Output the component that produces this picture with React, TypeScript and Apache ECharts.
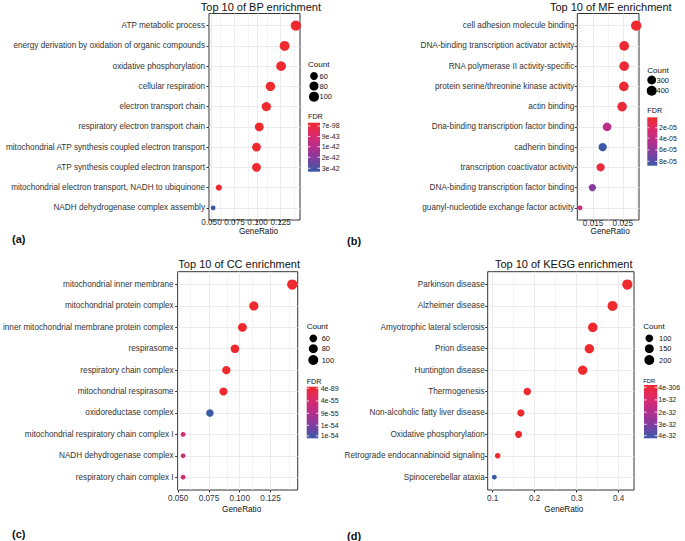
import React, { useEffect, useRef } from "react";
import * as echarts from "echarts";

// ---------- DATA ----------
// (a) BP
const bpTerms = [
  "ATP metabolic process",
  "energy derivation by oxidation of organic compounds",
  "oxidative phosphorylation",
  "cellular respiration",
  "electron transport chain",
  "respiratory electron transport chain",
  "mitochondrial ATP synthesis coupled electron transport",
  "ATP synthesis coupled electron transport",
  "mitochondrial electron transport, NADH to ubiquinone",
  "NADH dehydrogenase complex assembly",
];
const bpRatio = [0.1415, 0.1293, 0.1255, 0.1139, 0.1095, 0.1018, 0.0988, 0.0988, 0.058, 0.0518];
const bpCount = [107, 98, 95, 86, 83, 77, 75, 75, 44, 39];
const bpFdr = [7e-98, 2e-80, 5e-78, 3e-70, 1e-68, 2e-64, 4e-62, 6e-62, 1e-44, 3.3e-42];
const bpMajor = [0.05, 0.075, 0.1, 0.125];
const bpMinor = [0.0625, 0.0875, 0.1125, 0.1375];
const bpCountBreaks = [60, 80, 100];
const bpFdrLabels = ["7e-98", "9e-43", "1e-42", "2e-42", "3e-42"];

// (b) MF
const mfTerms = [
  "cell adhesion molecule binding",
  "DNA-binding transcription activator activity",
  "RNA polymerase II activity-specific",
  "protein serine/threonine kinase activity",
  "actin binding",
  "Dna-binding transcription factor binding",
  "cadherin binding",
  "transcription coactivator activity",
  "DNA-binding transcription factor binding",
  "guanyl-nucleotide exchange factor activity",
];
const mfRatio = [0.0295, 0.02545, 0.02545, 0.02534, 0.02476, 0.01969, 0.01821, 0.01752, 0.01476, 0.01062];
const mfCount = [430, 371, 371, 369, 361, 287, 265, 255, 215, 155];
const mfFdr = [1.4e-6, 3e-6, 3.5e-6, 4e-6, 5e-6, 4.2e-5, 8.78e-5, 7e-6, 6.4e-5, 3.2e-5];
const mfMajor = [0.015, 0.025];
const mfMinor = [0.01, 0.02, 0.03];
const mfCountBreaks = [300, 400];
const mfFdrLabels = ["2e-05", "4e-05", "6e-05", "8e-05"];

// (c) CC
const ccTerms = [
  "mitochondrial inner membrane",
  "mitochondrial protein complex",
  "inner mitochondrial membrane protein complex",
  "respirasome",
  "respiratory chain complex",
  "mitochondrial respirasome",
  "oxidoreductase complex",
  "mitochondrial respiratory chain complex I",
  "NADH dehydrogenase complex",
  "respiratory chain complex I",
];
const ccRatio = [0.1427, 0.1115, 0.1022, 0.0961, 0.0891, 0.0868, 0.0758, 0.054, 0.054, 0.054];
const ccCount = [108, 85, 78, 73, 68, 66, 58, 41, 41, 41];
const ccFdr = [4e-89, 2e-75, 5e-70, 8e-66, 3e-62, 5e-61, 1.45e-54, 4.6e-55, 4.6e-55, 4.6e-55];
const ccMajor = [0.05, 0.075, 0.1, 0.125];
const ccMinor = [0.0625, 0.0875, 0.1125, 0.1375];
const ccCountBreaks = [60, 80, 100];
const ccFdrLabels = ["4e-89", "4e-55", "9e-55", "1e-54", "1e-54"];

// (d) KEGG
const keggTerms = [
  "Parkinson disease",
  "Alzheimer disease",
  "Amyotrophic lateral sclerosis",
  "Prion disease",
  "Huntington disease",
  "Thermogenesis",
  "Non-alcoholic fatty liver disease",
  "Oxidative phosphorylation",
  "Retrograde endocannabinoid signaling",
  "Spinocerebellar ataxia",
];
const keggRatio = [0.4209, 0.3856, 0.3385, 0.3304, 0.3145, 0.1825, 0.1672, 0.1617, 0.112, 0.104];
const keggCount = [223, 204, 179, 175, 167, 97, 89, 86, 59, 55];
const keggFdr = [4e-306, 1e-150, 2e-120, 3e-118, 1e-110, 2e-50, 4e-45, 6e-44, 2e-35, 4.3e-32];
const keggMajor = [0.1, 0.2, 0.3, 0.4];
const keggMinor = [0.15, 0.25, 0.35];
const keggCountBreaks = [100, 150, 200];
const keggFdrLabels = ["4e-306", "1e-32", "2e-32", "3e-32", "4e-32"];

const titles = [
  "Top 10 of BP enrichment",
  "Top 10 of MF enrichment",
  "Top 10 of CC enrichment",
  "Top 10 of KEGG enrichment",
];
const tags = ["(a)", "(b)", "(c)", "(d)"];

const PANELS = [
  { terms: bpTerms, ratio: bpRatio, count: bpCount, fdr: bpFdr, major: bpMajor, minor: bpMinor, breaks: bpCountBreaks, fdrLabels: bpFdrLabels, dec: 3 },
  { terms: mfTerms, ratio: mfRatio, count: mfCount, fdr: mfFdr, major: mfMajor, minor: mfMinor, breaks: mfCountBreaks, fdrLabels: mfFdrLabels, dec: 3 },
  { terms: ccTerms, ratio: ccRatio, count: ccCount, fdr: ccFdr, major: ccMajor, minor: ccMinor, breaks: ccCountBreaks, fdrLabels: ccFdrLabels, dec: 3 },
  { terms: keggTerms, ratio: keggRatio, count: keggCount, fdr: keggFdr, major: keggMajor, minor: keggMinor, breaks: keggCountBreaks, fdrLabels: keggFdrLabels, dec: 1 },
];

// ---------- LAYOUT / STYLE ----------
const FONT = "'Liberation Sans', Arial, Helvetica, sans-serif";
const RAMP = ["#EE2A2F", "#DC2A6B", "#B52E8D", "#7E3FA0", "#3A5AA8"];
const D_MIN = 4.7;
const D_MAX = 10.3;
const AXIS_TEXT = "#333333";
const AXIS_FS = 8.2;

const LAYOUT = [
  {
    grid: { left: 209, top: 13.5, width: 91, height: 206.5 },
    xMargin: -1.5, nameGap: 5, namePad: 8, yMargin: 4,
    title: [260.9, 6.5], tag: [12, 239],
    count: { title: [308, 64], cx: 314, cys: [76, 86, 96.7], lx: 319.5 },
    fdr: { title: [308, 116], fs: 7.2, bar: [308, 122.7, 12, 49], lx: 321.7, fr: [0.067, 0.28, 0.49, 0.705, 0.93] },
  },
  {
    grid: { left: 577.3, top: 13.5, width: 61.7, height: 206.5 },
    xMargin: -1, nameGap: 6.5, namePad: 4, yMargin: 3,
    title: [610.8, 6.5], tag: [347, 240.5],
    count: { title: [647.3, 70], cx: 651.7, cys: [80, 90.7], lx: 656.5 },
    fdr: { title: [647.3, 110.7], fs: 7.2, bar: [647.3, 117.3, 10, 48.4], lx: 659, fr: [0.215, 0.43, 0.675, 0.91] },
  },
  {
    grid: { left: 176, top: 271.7, width: 121.7, height: 218.3 },
    xMargin: 4, nameGap: 15.5, namePad: 8, yMargin: 4,
    title: [239.2, 263.5], tag: [12, 533.5],
    count: { title: [306.7, 326], cx: 313.3, cys: [338.3, 348.7, 360], lx: 321.7 },
    fdr: { title: [306.7, 381], fs: 7.2, bar: [306.7, 386.7, 11.6, 51.6], lx: 320.7, fr: [0.03, 0.277, 0.516, 0.748, 0.955] },
  },
  {
    grid: { left: 487.7, top: 271.7, width: 146.3, height: 218.3 },
    xMargin: 4, nameGap: 15.5, namePad: 6, yMargin: 3,
    title: [563.7, 264], tag: [347, 535.5],
    count: { title: [643.3, 326], cx: 649.3, cys: [338.3, 348.7, 360], lx: 659 },
    fdr: { title: [643.3, 381], fs: 5.8, bar: [644, 385, 13.3, 53.3], lx: 658.3, fr: [0.043, 0.28, 0.51, 0.737, 0.95] },
  },
];

const sizeOf = (c: number, cmin: number, cmax: number) =>
  D_MIN + (D_MAX - D_MIN) * Math.sqrt(Math.max(0, (c - cmin) / (cmax - cmin)));

function txt(text: string, x: number, y: number, fontSize: number, align = "left", extra: any = {}) {
  return {
    type: "text",
    silent: true,
    z: 10,
    style: {
      text, x, y, fontSize, fontFamily: FONT, fill: extra.fill || "#111111",
      fontWeight: extra.fontWeight || "normal",
      align, textAlign: align, verticalAlign: "middle", textVerticalAlign: "middle",
    },
  };
}

function buildOption() {
  const grid: any[] = [];
  const xAxis: any[] = [];
  const yAxis: any[] = [];
  const series: any[] = [];
  const visualMap: any[] = [];
  const graphic: any[] = [];

  PANELS.forEach((p, i) => {
    const L = LAYOUT[i];
    const lo = Math.min(...p.ratio);
    const hi = Math.max(...p.ratio);
    const pad = (hi - lo) * 0.05;
    const xmin = lo - pad;
    const xmax = hi + pad;
    const cmin = Math.min(...p.count);
    const cmax = Math.max(...p.count);
    const fmin = Math.min(...p.fdr);
    const fmax = Math.max(...p.fdr);
    const rows = p.terms.map((_, k) => k);

    grid.push({ ...L.grid, show: true, borderColor: "#333333", borderWidth: 1, backgroundColor: "#ffffff" });
    xAxis.push({
      type: "value", gridIndex: i, min: xmin, max: xmax,
      name: "GeneRatio", nameLocation: "middle", nameGap: L.nameGap,
      nameTextStyle: { fontFamily: FONT, fontSize: AXIS_FS, color: "#111111", padding: [0, 0, 0, L.namePad] },
      axisLine: { show: false, onZero: false },
      axisTick: { show: true, length: 2.5, lineStyle: { color: "#333333" }, customValues: p.major },
      axisLabel: {
        customValues: p.major, formatter: (v: number) => v.toFixed(p.dec),
        margin: L.xMargin, fontSize: AXIS_FS, color: AXIS_TEXT, fontFamily: FONT,
      },
      splitLine: { show: true, lineStyle: { color: "#EBEBEB", width: 1 } },
    });
    yAxis.push({
      type: "value", gridIndex: i, inverse: true, min: -0.6, max: 9.6,
      axisLine: { show: false, onZero: false },
      axisTick: { show: true, length: 2.5, lineStyle: { color: "#333333" }, customValues: rows },
      axisLabel: {
        customValues: rows, formatter: (v: number) => p.terms[Math.round(v)] ?? "",
        margin: L.yMargin, fontSize: AXIS_FS, color: AXIS_TEXT, fontFamily: FONT,
      },
      splitLine: { show: true, lineStyle: { color: "#EBEBEB", width: 1 } },
    });
    series.push({
      type: "scatter", xAxisIndex: i, yAxisIndex: i, z: 3, silent: true,
      data: p.ratio.map((r, k) => [r, k, p.count[k], p.fdr[k]]),
      encode: { x: 0, y: 1 },
      symbolSize: (v: number[]) => sizeOf(v[2], cmin, cmax),
      itemStyle: { opacity: 1 },
    });
    series.push({
      type: "line", xAxisIndex: i, yAxisIndex: i, z: 1, silent: true, data: [],
      markLine: {
        silent: true, z: 1, symbol: ["none", "none"], label: { show: false },
        lineStyle: { color: "#EBEBEB", width: 0.6, type: "solid" },
        data: p.minor.filter((v) => v >= xmin && v <= xmax).map((v) => ({ xAxis: v })),
      },
    });
    visualMap.push({
      type: "continuous", show: false, seriesIndex: 2 * i, dimension: 3,
      min: fmin, max: fmax, inRange: { color: RAMP },
    });

    // titles & tags
    graphic.push(txt(titles[i], L.title[0], L.title[1], 11, "center"));
    graphic.push(txt(tags[i], L.tag[0], L.tag[1], 11, "left", { fontWeight: "bold" }));

    // size legend
    graphic.push(txt("Count", L.count.title[0], L.count.title[1], 8, "left"));
    p.breaks.forEach((b, k) => {
      graphic.push({
        type: "circle", silent: true,
        shape: { cx: L.count.cx, cy: L.count.cys[k], r: sizeOf(b, cmin, cmax) / 2 },
        style: { fill: "#000000" },
      });
      graphic.push(txt(String(b), L.count.lx, L.count.cys[k], 7.5, "left"));
    });

    // colour legend
    graphic.push(txt("FDR", L.fdr.title[0], L.fdr.title[1], L.fdr.fs, "left"));
    const [bx, by, bw, bh] = L.fdr.bar;
    graphic.push({
      type: "rect", silent: true,
      shape: { x: bx, y: by, width: bw, height: bh },
      style: {
        fill: new echarts.graphic.LinearGradient(0, 0, 0, 1,
          RAMP.map((c, k) => ({ offset: k / (RAMP.length - 1), color: c }))),
      },
    });
    p.fdrLabels.forEach((lab, k) => {
      const ty = by + bh * L.fdr.fr[k];
      const tl = bw / 5;
      graphic.push({ type: "line", silent: true, shape: { x1: bx, y1: ty, x2: bx + tl, y2: ty }, style: { stroke: "#ffffff", lineWidth: 0.8 } });
      graphic.push({ type: "line", silent: true, shape: { x1: bx + bw - tl, y1: ty, x2: bx + bw, y2: ty }, style: { stroke: "#ffffff", lineWidth: 0.8 } });
      graphic.push(txt(lab, L.fdr.lx, ty, 7, "left", { fill: "#1a1a1a" }));
    });
  });

  return {
    animation: false,
    backgroundColor: "#ffffff",
    textStyle: { fontFamily: FONT },
    grid, xAxis, yAxis, series, visualMap, graphic,
  };
}

export default function App() {
  const ref = useRef<HTMLDivElement>(null);
  useEffect(() => {
    if (!ref.current) return;
    const chart = echarts.init(ref.current, undefined, { renderer: "svg" });
    chart.setOption(buildOption() as any);
    return () => chart.dispose();
  }, []);
  return (
    <div
      ref={ref}
      style={{ position: "absolute", left: 0, top: 0, width: 685, height: 541, background: "#fff" }}
    />
  );
}
